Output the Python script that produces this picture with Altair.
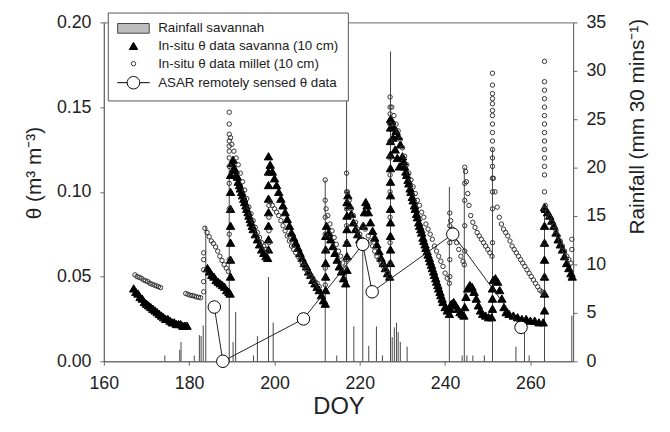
import altair as alt
import pandas as pd

# ---------------- values ----------------
series = [
    "Rainfall savannah",
    "In-situ θ data savanna (10 cm)",
    "In-situ θ data millet (10 cm)",
    "ASAR remotely sensed θ data",
]

x_ticks = [160, 180, 200, 220, 240, 260]
theta_ticks = [0.0, 0.05, 0.10, 0.15, 0.20]
rain_ticks = [0, 5, 10, 15, 20, 25, 30, 35]

# rainfall (DOY, mm per 30 min)
rain = [(174.3, 0.6), (177.8, 1.2), (178.1, 2.0), (181.2, 0.6), (182.4, 2.7), (182.8, 2.6),
        (183.3, 3.7), (183.9, 14.0), (189.4, 20.0), (190.3, 2.0), (190.9, 5.1), (195.1, 0.6),
        (196.0, 2.6), (198.6, 8.7), (199.7, 4.0), (211.9, 18.7), (214.6, 0.6), (216.9, 28.6),
        (218.6, 3.6), (220.7, 12.0), (222.1, 1.6), (223.9, 3.6), (225.3, 0.6), (227.2, 32.0),
        (227.6, 2.5), (228.1, 3.5), (228.6, 4.0), (229.0, 3.0), (229.5, 2.0), (231.1, 1.5),
        (241.0, 18.0), (244.0, 0.6), (244.5, 20.0), (245.1, 0.6), (246.5, 0.6), (249.2, 0.6),
        (251.1, 22.0), (256.6, 1.5), (258.6, 3.6), (259.7, 0.6), (263.3, 16.0), (269.7, 4.7)]

# in-situ savanna soil moisture (DOY, theta)
savanna = [
    (167.0, .043), (167.5, .041), (168.0, .040), (168.5, .038), (169.0, .037), (169.5, .035),
    (170.0, .034), (170.5, .033), (171.0, .032), (171.5, .031), (172.0, .030), (172.5, .029),
    (173.0, .028), (173.5, .027), (174.0, .026), (174.5, .025), (175.0, .025), (175.5, .024),
    (176.0, .023), (176.5, .023), (177.0, .022), (177.5, .022), (178.0, .022), (178.5, .021),
    (179.0, .021), (179.5, .021),
    (184.3, .055), (184.8, .053), (185.3, .051), (185.8, .050), (186.3, .048), (186.8, .047),
    (187.3, .046), (187.8, .045), (188.3, .044), (188.8, .042), (189.3, .041), (189.6, .040),
    (189.7, .050), (189.7, .060), (189.7, .070), (189.7, .080), (189.7, .090), (189.7, .100), (189.7, .110),
    (190.0, .117), (190.3, .119), (190.5, .114), (190.8, .113), (191.0, .110), (191.3, .109),
    (191.5, .106), (191.8, .104), (192.0, .102), (192.3, .100), (192.5, .098), (192.8, .096),
    (193.0, .094), (193.3, .092), (193.5, .090), (193.8, .088), (194.0, .086), (194.3, .084),
    (194.5, .082), (194.8, .080), (195.0, .078), (195.5, .075),
    (196.0, .072), (196.5, .069), (197.0, .066), (197.5, .064), (198.0, .062), (198.4, .061),
    (198.6, .066), (198.6, .072), (198.6, .080), (198.6, .088), (198.6, .096), (198.6, .104),
    (198.6, .112), (198.6, .121),
    (199.0, .116), (199.5, .112), (200.0, .108), (200.5, .104), (201.0, .100), (201.5, .096),
    (202.0, .092), (202.5, .088), (203.0, .084), (203.5, .080), (204.0, .076), (204.5, .073),
    (205.0, .070), (205.5, .067), (206.0, .064), (206.5, .061), (207.0, .058), (207.5, .056),
    (208.0, .053), (208.5, .051), (209.0, .048), (209.5, .046), (210.0, .044), (210.5, .042),
    (211.0, .039), (211.5, .036), (211.9, .034),
    (212.0, .042), (212.0, .050), (212.0, .058), (212.0, .066), (212.0, .074),
    (212.2, .080), (212.7, .076), (213.2, .072), (213.7, .068), (214.2, .064), (214.7, .060),
    (215.2, .056), (215.7, .053), (216.2, .049), (216.7, .046),
    (217.0, .054), (217.0, .062), (217.0, .070), (217.0, .078), (217.0, .086), (217.0, .094),
    (217.2, .098), (217.6, .092), (218.0, .087), (218.5, .082), (219.0, .078), (219.5, .075),
    (220.0, .072), (220.5, .070),
    (220.8, .080), (221.1, .088), (221.4, .094), (221.7, .092), (222.0, .088), (222.5, .082),
    (223.0, .077), (223.5, .073), (224.0, .069), (224.5, .065), (225.0, .061), (225.5, .058),
    (226.0, .055), (226.5, .052), (227.0, .050),
    (227.2, .058), (227.2, .066), (227.2, .074), (227.2, .082), (227.2, .090), (227.2, .098),
    (227.2, .106), (227.2, .114), (227.2, .122), (227.2, .130), (227.2, .138), (227.2, .143),
    (227.5, .142), (227.8, .132), (228.0, .138), (228.3, .125), (228.5, .136), (228.8, .120),
    (229.0, .133), (229.3, .115), (229.5, .128),
    (230.0, .121), (230.3, .118), (230.5, .115), (230.8, .112), (231.0, .110), (231.3, .107),
    (231.5, .105), (231.8, .102), (232.0, .100), (232.3, .097), (232.5, .095), (232.8, .092),
    (233.0, .090), (233.3, .087), (233.5, .085), (233.8, .082), (234.0, .080), (234.3, .078),
    (234.5, .076), (234.8, .073), (235.0, .071), (235.3, .069), (235.5, .067), (235.8, .065),
    (236.0, .063), (236.3, .061), (236.5, .059), (236.8, .057), (237.0, .055), (237.3, .053),
    (237.5, .051), (237.8, .049), (238.0, .047), (238.3, .045), (238.5, .043), (238.8, .041),
    (239.0, .039), (239.3, .037), (239.5, .035), (240.0, .032), (240.5, .030), (241.0, .028),
    (241.2, .031), (241.5, .034), (242.0, .035), (242.5, .033), (243.0, .031), (243.5, .029),
    (244.0, .028), (244.4, .027),
    (244.6, .032), (244.9, .038), (245.3, .043), (245.8, .045), (246.3, .044), (246.8, .041),
    (247.3, .037), (247.8, .033), (248.3, .030), (248.8, .028), (249.5, .027), (250.2, .026),
    (250.9, .026),
    (251.1, .031), (251.1, .037), (251.1, .043),
    (251.3, .048), (251.8, .049), (252.3, .047), (252.8, .042), (253.3, .037), (253.8, .032),
    (254.3, .029), (255.0, .028), (256.0, .027), (257.0, .026), (258.0, .025), (259.0, .025),
    (260.0, .024), (261.0, .024), (262.0, .023), (263.0, .023),
    (263.3, .030), (263.3, .040), (263.3, .050), (263.3, .060), (263.3, .070), (263.3, .080), (263.3, .091),
    (263.5, .090), (264.0, .088), (264.5, .086), (265.0, .083), (265.5, .080), (266.0, .076),
    (266.5, .072), (267.0, .069), (267.5, .066), (268.0, .062), (268.5, .058), (269.0, .055),
    (269.5, .052), (269.8, .050),
]

# in-situ millet soil moisture (DOY, theta)
millet = [
    (167.3, .051), (167.8, .050), (168.3, .0495), (168.8, .049), (169.3, .048), (169.8, .0475),
    (170.3, .047), (170.8, .046), (171.3, .0455), (171.8, .045), (172.3, .0445), (172.8, .044),
    (173.3, .0435),
    (179.2, .040), (179.7, .0395), (180.2, .039), (180.7, .0388), (181.2, .0385), (181.7, .038),
    (182.2, .0378), (182.7, .0375),
    (183.4, .041), (183.4, .047), (183.4, .054), (183.4, .060), (183.4, .064),
    (183.7, .0785), (184.2, .076), (184.7, .0735), (185.2, .071), (185.7, .0695), (186.2, .0675),
    (186.7, .065), (187.2, .062), (187.7, .0595), (188.2, .057), (188.7, .055), (189.2, .053),
    (189.4, .060), (189.4, .075), (189.4, .090), (189.4, .105), (189.4, .115), (189.4, .120),
    (189.4, .124), (189.4, .127), (189.4, .130), (189.4, .134), (189.4, .140), (189.4, .147),
    (189.7, .132), (190.0, .128), (190.5, .124), (191.0, .120), (191.5, .116), (192.0, .111),
    (192.5, .106), (193.0, .101), (193.5, .096), (194.0, .091), (194.5, .087), (195.0, .083),
    (195.5, .079), (196.0, .076), (196.5, .073), (197.0, .070), (197.5, .068), (198.0, .066),
    (198.4, .065),
    (198.7, .070), (198.7, .077), (198.7, .085), (198.7, .092),
    (199.0, .094), (199.5, .092), (200.0, .090), (200.5, .088), (201.0, .086), (201.5, .083),
    (202.0, .080), (202.5, .077), (203.0, .074), (203.5, .071), (204.0, .068), (204.5, .066),
    (205.0, .064), (205.5, .062), (206.0, .060), (206.5, .058), (207.0, .056), (207.5, .054),
    (208.0, .052), (208.5, .050), (209.0, .049), (209.5, .047), (210.0, .046), (210.5, .044),
    (211.9, .045), (211.9, .055), (211.9, .065), (211.9, .075), (211.9, .085), (211.9, .095), (211.9, .107),
    (212.1, .090), (212.5, .086), (213.0, .081), (213.5, .077), (214.0, .073), (214.5, .069),
    (215.0, .065), (215.5, .062), (216.0, .058), (216.5, .055),
    (216.9, .060), (216.9, .070), (216.9, .080), (216.9, .090), (216.9, .100), (216.9, .111),
    (217.1, .100), (217.5, .095), (218.0, .090), (218.5, .086), (219.0, .082), (219.5, .078),
    (220.0, .075), (220.5, .072),
    (220.8, .080), (221.3, .078), (222.0, .074), (222.5, .071), (223.0, .068), (223.5, .065),
    (224.0, .062), (224.5, .060), (225.0, .058), (225.5, .056), (226.0, .054), (226.5, .052),
    (227.0, .050),
    (227.1, .058), (227.1, .070), (227.1, .085), (227.1, .100), (227.1, .110), (227.1, .120),
    (227.1, .130), (227.1, .140), (227.1, .146), (227.1, .150), (227.1, .156),
    (227.5, .150), (228.0, .145), (228.5, .140), (229.0, .136), (229.5, .131), (230.0, .126),
    (230.5, .121), (231.0, .116), (231.5, .111), (232.0, .107), (232.5, .103), (233.0, .099),
    (233.5, .095), (234.0, .092), (234.5, .088), (235.0, .085), (235.5, .081), (236.0, .078),
    (236.5, .075), (237.0, .072), (237.5, .068), (238.0, .065), (238.5, .062), (239.0, .059),
    (239.5, .056), (240.0, .052), (240.5, .049), (241.0, .046),
    (241.1, .050), (241.1, .060), (241.1, .070), (241.1, .080), (241.1, .0875),
    (241.3, .083), (241.7, .078), (242.2, .074), (242.7, .070), (243.2, .066), (243.7, .062),
    (244.2, .059), (244.5, .057),
    (244.6, .065), (244.6, .080), (244.6, .095), (244.6, .105), (244.6, .1145),
    (244.8, .112), (245.0, .106), (245.3, .099), (245.6, .092), (246.0, .086), (246.5, .082),
    (247.0, .079), (247.5, .076), (248.0, .074), (248.5, .072), (249.0, .070), (249.5, .068),
    (250.0, .066), (250.5, .064), (251.0, .062),
    (251.1, .070), (251.1, .090), (251.1, .100), (251.1, .108), (251.1, .115), (251.1, .120),
    (251.1, .125), (251.1, .130), (251.1, .135), (251.1, .140), (251.1, .145), (251.1, .148),
    (251.1, .152), (251.1, .155), (251.1, .158), (251.1, .163), (251.1, .170),
    (251.3, .108), (251.7, .100), (252.2, .091), (252.7, .085), (253.2, .081), (253.7, .078),
    (254.2, .076), (254.7, .074), (255.2, .071), (255.7, .068), (256.2, .066), (256.7, .064),
    (257.2, .062), (257.7, .060), (258.2, .058), (258.7, .056), (259.2, .054), (259.7, .052),
    (260.2, .050), (260.7, .048), (261.2, .046), (261.7, .044), (262.2, .042), (262.7, .041),
    (263.1, .040),
    (263.3, .050), (263.3, .070), (263.3, .090), (263.3, .100), (263.3, .110), (263.3, .115),
    (263.3, .120), (263.3, .125), (263.3, .130), (263.3, .135), (263.3, .140), (263.3, .145),
    (263.3, .150), (263.3, .155), (263.3, .160), (263.3, .165), (263.3, .177),
    (263.5, .092), (264.0, .088), (264.5, .085), (265.0, .082), (265.5, .080), (266.0, .077),
    (266.5, .074), (267.0, .071), (267.5, .068), (268.0, .065), (268.5, .062), (269.0, .060),
    (269.5, .058),
    (269.7, .066), (269.7, .072),
]

# ASAR remotely sensed theta
asar_doy = [185.9, 187.9, 206.8, 220.7, 222.9, 241.8, 257.8]
asar_theta = [0.032, 0.000, 0.025, 0.069, 0.041, 0.075, 0.020]

# ---------------- tables ----------------
rain_df = pd.DataFrame(rain, columns=["doy", "mm"])
rain_df["series"] = series[0]
sav_df = pd.DataFrame(savanna, columns=["doy", "theta"])
sav_df["series"] = series[1]
mil_df = pd.DataFrame(millet, columns=["doy", "theta"])
mil_df["series"] = series[2]
asar_df = pd.DataFrame({"doy": asar_doy, "theta": asar_theta, "series": series[3]})

FONT = "Liberation Sans"
RAIN_PATH = "M-2.6,-0.8H2.6V0.8H-2.6Z"
ASAR_PATH = "M-2.6,0H-1M1,0H2.6M1,0A1,1,0,1,1,-1,0A1,1,0,1,1,1,0Z"

x_scale = alt.Scale(domain=[160, 270], nice=False, zero=False)
y_scale = alt.Scale(domain=[0, 0.2], nice=False)
r_scale = alt.Scale(domain=[0, 35], nice=False)

legend = alt.Legend(title=None)
shape_enc = alt.Shape("series:N", legend=legend,
                      scale=alt.Scale(domain=series, range=[RAIN_PATH, "triangle-up", "circle", ASAR_PATH]))
fill_enc = alt.Fill("series:N", legend=legend,
                    scale=alt.Scale(domain=series, range=["#bdbdbd", "black", "transparent", "white"]))
stroke_enc = alt.Stroke("series:N", legend=legend,
                        scale=alt.Scale(domain=series, range=["#444444", "black", "#333333", "black"]))
size_enc = alt.Size("series:N", legend=legend,
                    scale=alt.Scale(type="ordinal", domain=series, range=[151, 72, 20, 160]))

x_axis = alt.Axis(values=x_ticks, format="d", title="DOY", titleFontSize=24, titleFontWeight="normal",
                  titleY=46, titleBaseline="middle", labelFontSize=18, labelPadding=10, tickSize=4,
                  labelFlush=False)
y_axis = alt.Axis(values=theta_ticks, format=".2f", orient="left", title="θ (m³ m⁻³)",
                  titleFontSize=21, titleFontWeight="normal", titleAngle=270, titleX=-70, titleY=152,
                  titleAlign="center", titleBaseline="middle", labelFontSize=18, labelPadding=9,
                  tickSize=4)
r_axis = alt.Axis(values=rain_ticks, orient="right", title="Rainfall (mm 30 mins⁻¹)",
                  titleFontSize=21, titleFontWeight="normal", titleAngle=270, titleX=65, titleY=105,
                  titleAlign="center", titleBaseline="middle", labelFontSize=18, labelPadding=9,
                  tickSize=4)

X = alt.X("doy:Q", scale=x_scale, axis=x_axis)

rain_layer = alt.Chart(rain_df).mark_rule(strokeWidth=1).encode(
    x=X,
    y=alt.Y("mm:Q", scale=r_scale, axis=r_axis),
    y2=alt.datum(0),
    stroke=stroke_enc,
)

Y = alt.Y("theta:Q", scale=y_scale, axis=y_axis)

sav_layer = alt.Chart(sav_df).mark_point(filled=True, opacity=1, strokeWidth=1).encode(
    x=X, y=Y, shape=shape_enc, fill=fill_enc, stroke=stroke_enc, size=size_enc)

mil_layer = alt.Chart(mil_df).mark_point(filled=True, opacity=1, strokeWidth=1).encode(
    x=X, y=Y, shape=shape_enc, fill=fill_enc, stroke=stroke_enc, size=size_enc)

asar_line = alt.Chart(asar_df).mark_line(color="#222222", strokeWidth=1).encode(x=X, y=Y)

asar_pts = alt.Chart(asar_df).mark_point(filled=True, opacity=1, strokeWidth=1, shape="circle").encode(
    x=X, y=Y, fill=fill_enc, stroke=stroke_enc, size=size_enc)

left = alt.layer(sav_layer, mil_layer, asar_line, asar_pts)

chart = alt.layer(rain_layer, left).resolve_scale(y="independent").properties(
    width=475, height=343,
    autosize=alt.AutoSizeParams(type="none"),
    padding={"left": 97, "top": 12, "right": 90, "bottom": 69},
).configure(font=FONT).configure_axis(
    grid=False, domainColor="#666666", tickColor="#666666", labelColor="#222222",
    titleColor="#222222", domainWidth=1, tickWidth=1, labelFont=FONT, titleFont=FONT,
).configure_view(stroke="#666666", strokeWidth=1).configure_legend(
    orient="none", legendX=4, legendY=-10, fillColor="white", strokeColor="#555555",
    padding=9, labelFontSize=13.5, labelFont=FONT, labelColor="#222222", symbolStrokeWidth=1,
    symbolFillColor="white", rowPadding=3, symbolOffset=10, labelOffset=18, labelLimit=320,
)

chart.save("out.html", embed_options={"renderer": "svg", "actions": False})
